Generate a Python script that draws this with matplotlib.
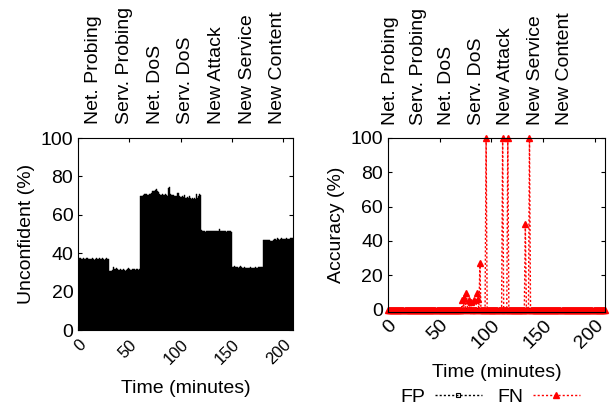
import matplotlib
matplotlib.use("Agg")
import matplotlib.pyplot as plt
import numpy as np

plt.rcParams['font.family'] = ['Liberation Sans', 'DejaVu Sans']

# phase names shown above both panels
phases = ["Net. Probing", "Serv. Probing", "Net. DoS", "Serv. DoS",
          "New Attack", "New Service", "New Content"]
phase_pos_left = [15, 45, 75, 105, 135, 165, 195]
phase_pos_right = [2, 30, 57, 86, 114, 143, 171]

# unconfident share per minute (%), one list per 30-minute segment
unconf_seg1 = [37, 37.5, 37.5, 37, 37, 37.5, 37, 37, 37.5, 37.5, 37, 37, 37, 37.5, 37,
               36.5, 37, 37.5, 37, 37, 37.5, 37, 37, 37.5, 37, 36.5, 37, 37.5, 37, 37]
unconf_seg2 = [31, 31, 31, 31.5, 33, 32, 32, 32.5, 32, 31.5, 31.5, 32, 31.5, 31.5, 32,
               31.5, 31, 31.5, 32, 32.5, 32, 31.5, 31.5, 32, 32, 31.5, 32, 32, 31.5, 32]
unconf_seg3 = [70, 70, 70, 70.5, 71, 71, 71, 70.5, 70.5, 71,
               71, 71.5, 72.5, 72.5, 72.5, 73, 73.5, 72.5, 72, 71,
               70.5, 70.5, 71, 70.5, 70.5, 71, 70.5, 70, 74, 74.5,
               71, 70.5, 70.5, 70.5, 70, 70, 71.5, 71.5, 70, 69.5,
               69.5, 70, 69.5, 70.5, 69, 69, 69.5, 69, 70, 69,
               68.5, 69, 68.5, 69, 68.5, 71, 69, 70, 71, 70.5]
unconf_seg4 = [52, 51.5, 51.5, 51.5, 51, 51.5, 51.5, 51.5, 51.5, 51.5, 51.5, 51.5, 51.5, 51.5, 51.5,
               51.5, 51.5, 52.5, 51.5, 51.5, 51.5, 51.5, 51.5, 51.5, 51, 51.5, 51.5, 51.5, 51.5, 51]
unconf_seg5 = [33, 33, 33.5, 33, 33, 33, 32.5, 33, 33.5, 33, 32.5, 32.5, 33, 32.5, 32.5,
               32.5, 32.5, 32.5, 33, 32.5, 32.5, 32.5, 32.5, 33, 32.5, 32.5, 33, 33, 33, 33]
unconf_seg6 = [47, 47, 47, 47, 47, 47, 47, 46.5, 46.5, 46.5, 47, 47.5, 47.5, 47, 48,
               47.5, 47, 47.5, 48, 47.5, 47.5, 47.5, 47.5, 48, 47.5, 47.5, 47.5, 48, 48, 48]

# FN spikes (minute -> %), FN and FP are 0 elsewhere
fn_minutes = [72, 74, 76, 78, 80, 83, 86, 87, 89, 95, 111, 116, 133, 137]
fn_values = [5.4, 7, 9.7, 5.8, 4.8, 5.6, 9.7, 6, 27, 100, 100, 100, 50, 100]
n_minutes = 211

unconf = unconf_seg1 + unconf_seg2 + unconf_seg3 + unconf_seg4 + unconf_seg5 + unconf_seg6
minutes = np.arange(len(unconf))
t = np.arange(n_minutes)
fp = np.zeros(n_minutes)
fn = np.zeros(n_minutes)
fn[fn_minutes] = fn_values

fig = plt.figure(figsize=(6.11, 4.05), dpi=100)
axL = fig.add_axes([0.128, 0.185, 0.352, 0.474])
axR = fig.add_axes([0.635, 0.230, 0.355, 0.430])

# left: unconfident bars
axL.bar(minutes, unconf, width=1.0, align='edge', color='black', edgecolor='black', linewidth=0.3)
axL.set_xlim(0, 210)
axL.set_ylim(0, 100)
axL.set_yticks([0, 20, 40, 60, 80, 100])
axL.set_xticks([0, 50, 100, 150, 200])
axL.set_ylabel("Unconfident (%)", fontsize=14)
axL.set_xlabel("Time (minutes)", fontsize=14, labelpad=9)
axL.tick_params(axis='y', labelsize=14)
axL.tick_params(axis='x', labelsize=12, pad=5)
for lab in axL.get_xticklabels():
    lab.set_rotation(45)
    lab.set_ha('right')
    lab.set_rotation_mode('anchor')

# right: FP / FN
axR.plot(t, fp, color='black', linestyle=(0, (1.5, 1.5)), linewidth=1,
         marker='s', markersize=3, markerfacecolor='none', markeredgewidth=0.8, label='FP')
axR.plot(t, fn, color='red', linestyle=(0, (1.5, 1.5)), linewidth=1,
         marker='^', markersize=4, label='FN', clip_on=False)
axR.set_xlim(0, 210)
axR.set_ylim(-1.2, 100)
axR.set_yticks([0, 20, 40, 60, 80, 100])
axR.set_xticks([0, 50, 100, 150, 200])
axR.set_ylabel("Accuracy (%)", fontsize=14)
axR.set_xlabel("Time (minutes)", fontsize=14, labelpad=9)
axR.tick_params(axis='both', labelsize=14)
for lab in axR.get_xticklabels():
    lab.set_rotation(45)
    lab.set_ha('right')
    lab.set_rotation_mode('anchor')

for ax, pos in ((axL, phase_pos_left), (axR, phase_pos_right)):
    ax.tick_params(direction='in', top=True, right=True, length=3)
    for name, x in zip(phases, pos):
        ax.text(x, 1.075, name, transform=ax.get_xaxis_transform(), rotation=90,
                ha='center', va='bottom', fontsize=14)

fig.legend(handles=axR.get_lines(), labels=['FP', 'FN'], ncol=2, frameon=False,
           markerfirst=False, handlelength=2.4, handletextpad=0.5, columnspacing=0.8,
           fontsize=14, loc='center', bbox_to_anchor=(0.802, 0.02))

fig.savefig("out.png", dpi=100)
